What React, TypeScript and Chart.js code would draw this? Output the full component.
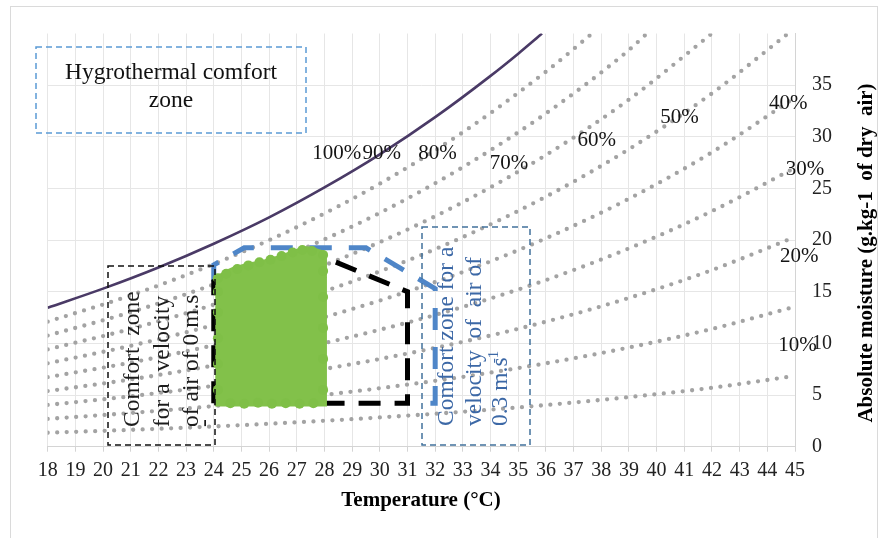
import React, { useEffect, useRef } from 'react';
import { Chart, registerables } from 'chart.js';

Chart.register(...registerables);

const SERIF = '"Liberation Serif", "Times New Roman", serif';

// Axis ranges / ticks
const X_MIN = 18;
const X_MAX = 45;
const Y_MIN = 0;
const Y_MAX = 40;
const X_STEP = 1;
const Y_STEP = 5;

// Saturation curve (100 %)
const satT = [18, 20, 22, 24, 26, 28, 30, 32, 34, 35, 35.86];
const satW = [13.45, 15.3, 17.35, 19.65, 22.2, 25.1, 28.3, 31.9, 35.9, 38.05, 40];

// Relative humidity curves (dotted)
const rhT = [18, 21, 24, 27, 30, 33, 36, 39, 42, 45];
const rh90T = [18, 21, 24, 27, 30, 33, 36, 37.67];
const rh90W = [12.1, 14.65, 17.68, 21.25, 25.46, 30.44, 36.3, 40];
const rh80T = [18, 21, 24, 27, 30, 33, 36, 39, 39.65];
const rh80W = [10.76, 13.02, 15.71, 18.89, 22.63, 27.06, 32.26, 38.4, 40];
const rh70T = [18, 21, 24, 27, 30, 33, 36, 39, 42];
const rh70W = [9.42, 11.4, 13.75, 16.53, 19.8, 23.67, 28.23, 33.6, 40];
const rh60T = [18, 21, 24, 27, 30, 33, 36, 39, 42, 44.75];
const rh60W = [8.07, 9.77, 11.78, 14.17, 16.97, 20.29, 24.2, 28.8, 34.2, 40];
const rh50W = [6.73, 8.14, 9.82, 11.8, 14.15, 16.91, 20.17, 24.0, 28.5, 33.8];
const rh40W = [5.38, 6.51, 7.86, 9.44, 11.32, 13.53, 16.13, 19.2, 22.8, 27.0];
const rh30W = [4.04, 4.88, 5.89, 7.08, 8.49, 10.15, 12.1, 14.4, 17.1, 20.3];
const rh20W = [2.69, 3.26, 3.93, 4.72, 5.66, 6.76, 8.07, 9.6, 11.4, 13.55];
const rh10W = [1.35, 1.63, 1.96, 2.36, 2.83, 3.38, 4.03, 4.8, 5.7, 6.85];

// Curve labels
const rhLabels = ['100%', '90%', '80%', '70%', '60%', '50%', '40%', '30%', '20%', '10%'];
const rhLabelT = [28.44, 30.07, 32.08, 34.67, 37.84, 40.83, 44.76, 45.36, 45.15, 45.09];
const rhLabelW = [28.43, 28.43, 28.43, 27.37, 29.64, 31.87, 33.18, 26.79, 18.39, 9.8];

// Measured data cloud (upper envelope, filled down to the base value)
const greenT = [24.05, 24.69, 25.92, 26.75, 27.37, 27.84, 28.09];
const greenW = [16.4, 17.3, 18.1, 18.8, 19.3, 19.0, 18.75];
const greenBase = 3.9;

// Measured points on the edge of the cloud
const cloudT = [24.15, 24.45, 24.85, 25.25, 25.65, 26.05, 26.45, 26.85, 27.2, 27.55, 27.95,
  24.15, 24.15, 24.15, 24.15, 24.15, 27.95, 27.95, 27.95, 27.95, 27.95,
  24.6, 25.1, 25.6, 26.1, 26.6, 27.1, 27.6];
const cloudW = [16.3, 16.75, 17.2, 17.55, 17.85, 18.1, 18.45, 18.8, 19.05, 18.95, 18.55,
  5.5, 8.0, 10.5, 13.0, 15.0, 5.5, 8.5, 11.5, 14.5, 17.0,
  4.2, 4.15, 4.25, 4.15, 4.2, 4.15, 4.2];

// Comfort zone, still air (black)
const blackT = [24, 24, 27.3, 31.0, 31.0, 24];
const blackW = [4.2, 16.0, 19.1, 15.0, 4.2, 4.2];

// Comfort zone, 0.3 m/s (blue)
const blueT = [24, 24, 25.1, 29.5, 32.0, 32.0, 31.5];
const blueW = [16.0, 17.6, 19.25, 19.25, 15.3, 4.2, 4.2];

// Texts
const titleX = 'Temperature (°C)';
const titleY = 'Absolute moisture (g.kg-1  of dry  air)';
const hygroLines = ['Hygrothermal comfort', 'zone'];
const stillLines = ['Comfort  zone', 'for a  velocity', 'of air of 0 m.s', '-'];
const breezeLines = ['Comfort zone for a', 'velocity  of  air of', '0.3 m.s'];
const breezeSup = '-1';

function pts(xs: number[], ys: number[]) {
  return xs.map((x, i) => ({ x, y: ys[i] }));
}

function vText(ctx: CanvasRenderingContext2D, s: string, bx: number, by: number) {
  ctx.save();
  ctx.translate(bx, by);
  ctx.rotate(-Math.PI / 2);
  ctx.textAlign = 'left';
  ctx.textBaseline = 'alphabetic';
  ctx.fillText(s, 0, 0);
  const w = ctx.measureText(s).width;
  ctx.restore();
  return w;
}

const annotations = {
  id: 'annotations',
  afterDatasetsDraw(chart: any) {
    const { ctx, scales } = chart;
    const xs = scales.x;
    const ys = scales.y;
    ctx.save();
    // curve labels
    ctx.font = `21px ${SERIF}`;
    ctx.fillStyle = '#141414';
    ctx.textAlign = 'center';
    ctx.textBaseline = 'middle';
    rhLabels.forEach((t, i) => {
      ctx.fillText(t, xs.getPixelForValue(rhLabelT[i]), ys.getPixelForValue(rhLabelW[i]));
    });

    // Hygrothermal box
    ctx.setLineDash([6, 4]);
    ctx.lineWidth = 1.5;
    ctx.strokeStyle = '#5b9bd5';
    ctx.strokeRect(36, 47, 270, 86);
    ctx.fillStyle = '#111';
    ctx.font = `23.5px ${SERIF}`;
    ctx.textAlign = 'center';
    ctx.textBaseline = 'alphabetic';
    ctx.fillText(hygroLines[0], 171, 78.5);
    ctx.fillText(hygroLines[1], 171, 106.5);

    // still air box
    ctx.strokeStyle = '#111';
    ctx.strokeRect(108, 266, 107, 179);
    ctx.fillStyle = '#1c1c1c';
    const stillBase = [139, 168.5, 198, 211];
    stillLines.forEach((s, i) => vText(ctx, s, stillBase[i], 427));

    // 0.3 m/s box
    ctx.strokeStyle = '#41719c';
    ctx.strokeRect(422, 227, 108, 218);
    ctx.fillStyle = '#3c68a6';
    const breezeBase = [453, 481, 507];
    breezeLines.forEach((s, i) => {
      const w = vText(ctx, s, breezeBase[i], 426);
      if (i === 2) {
        ctx.save();
        ctx.font = `15px ${SERIF}`;
        ctx.translate(breezeBase[i], 426);
        ctx.rotate(-Math.PI / 2);
        ctx.fillText(breezeSup, w + 0.5, -9);
        ctx.restore();
      }
    });
    ctx.restore();
  },
  afterDraw(chart: any) {
    const { ctx } = chart;
    ctx.save();
    ctx.fillStyle = '#000';
    ctx.font = `bold 21px ${SERIF}`;
    ctx.textAlign = 'center';
    ctx.textBaseline = 'middle';
    ctx.fillText(titleX, 421, 501);
    ctx.translate(867, 253);
    ctx.rotate(-Math.PI / 2);
    ctx.fillText(titleY, 0, 0);
    ctx.restore();
    ctx.save();
    ctx.strokeStyle = '#dadada';
    ctx.lineWidth = 1;
    ctx.strokeRect(10.5, 6.5, 867, 560);
    ctx.restore();
  },
};

export default function App() {
  const ref = useRef<HTMLCanvasElement>(null);

  useEffect(() => {
    const canvas = ref.current;
    if (!canvas) return;

    const dotted = (label: string, xs: number[], ys: number[]) => ({
      label,
      data: pts(xs, ys),
      borderColor: '#a3a3a3',
      borderWidth: 4.3,
      borderDash: [0, 9.5],
      borderCapStyle: 'round',
      pointRadius: 0,
      cubicInterpolationMode: 'monotone',
      fill: false,
      order: 6,
    });

    const chart = new Chart(canvas, {
      type: 'line',
      data: {
        datasets: [
          {
            label: 'measured points',
            data: pts(cloudT, cloudW),
            showLine: false,
            pointRadius: 5,
            pointBorderWidth: 0,
            pointBackgroundColor: '#7fbf47',
            pointBorderColor: '#7fbf47',
            order: 0,
          } as any,
          {
            label: 'measured',
            data: pts(greenT, greenW),
            borderColor: '#82c14a',
            backgroundColor: '#82c14a',
            borderWidth: 2,
            pointRadius: 0,
            cubicInterpolationMode: 'monotone',
            fill: { value: greenBase },
            order: 0.5,
          } as any,
          {
            label: 'still',
            data: pts(blackT, blackW),
            borderColor: '#000',
            borderWidth: 5,
            borderDash: [22, 14],
            borderCapStyle: 'butt',
            pointRadius: 0,
            tension: 0,
            fill: false,
            order: 1,
          },
          {
            label: 'breeze',
            data: pts(blueT, blueW),
            borderColor: '#4f86c8',
            borderWidth: 5,
            borderDash: [22, 17],
            borderCapStyle: 'butt',
            pointRadius: 0,
            tension: 0,
            fill: false,
            order: 2,
          },
          {
            label: '100%',
            data: pts(satT, satW),
            borderColor: '#4a3a66',
            borderWidth: 2.6,
            pointRadius: 0,
            cubicInterpolationMode: 'monotone',
            fill: false,
            order: 5,
          },
          dotted('90%', rh90T, rh90W),
          dotted('80%', rh80T, rh80W),
          dotted('70%', rh70T, rh70W),
          dotted('60%', rh60T, rh60W),
          dotted('50%', rhT, rh50W),
          dotted('40%', rhT, rh40W),
          dotted('30%', rhT, rh30W),
          dotted('20%', rhT, rh20W),
          dotted('10%', rhT, rh10W),
        ] as any,
      },
      options: {
        responsive: false,
        animation: false,
        devicePixelRatio: 1,
        layout: { padding: { left: 47.7, top: 33.5, right: 0, bottom: 0 } },
        plugins: { legend: { display: false }, tooltip: { enabled: false } },
        scales: {
          x: {
            type: 'linear',
            min: X_MIN,
            max: X_MAX,
            afterFit: (s: any) => {
              s.height = 91.3;
            },
            ticks: {
              stepSize: X_STEP,
              autoSkip: false,
              maxRotation: 0,
              padding: 7,
              color: '#222',
              font: { family: SERIF, size: 20 },
            },
            grid: { color: '#e6e6e6', tickColor: '#d4d4d4', tickLength: 5, lineWidth: 1 },
            border: { color: '#d4d4d4' },
          },
          y: {
            type: 'linear',
            position: 'right',
            min: Y_MIN,
            max: Y_MAX,
            afterFit: (s: any) => {
              s.width = 85;
            },
            ticks: {
              stepSize: Y_STEP,
              padding: 17,
              color: '#222',
              font: { family: SERIF, size: 20 },
              callback: (v: any) => (v === Y_MAX ? '' : String(v)),
            },
            grid: {
              drawTicks: false,
              color: (c: any) => (c.tick && c.tick.value === Y_MAX ? 'rgba(0,0,0,0)' : '#e6e6e6'),
            },
            border: { color: '#d4d4d4' },
          },
        },
      } as any,
      plugins: [annotations],
    });

    return () => chart.destroy();
  }, []);

  return (
    <div style={{ position: 'absolute', left: 0, top: 0, width: 880, height: 538, background: '#fff' }}>
      <canvas ref={ref} width={880} height={538} style={{ display: 'block' }} />
    </div>
  );
}
